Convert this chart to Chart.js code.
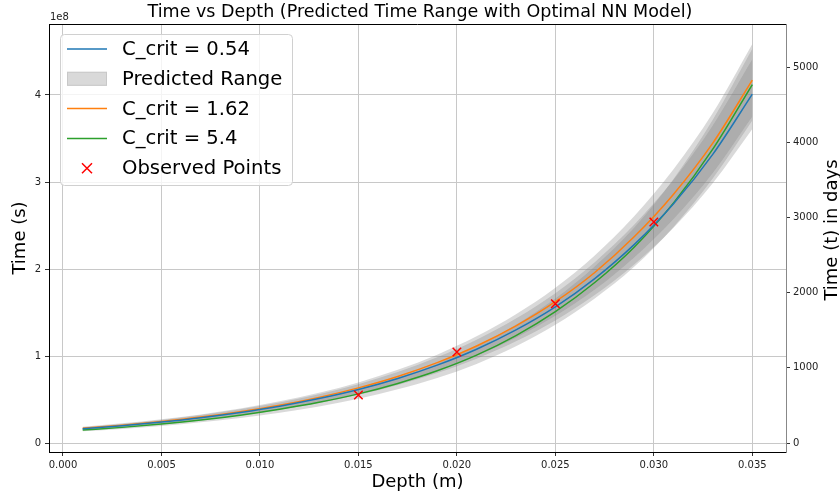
<!DOCTYPE html>
<html>
<head>
<meta charset="utf-8">
<script src="https://cdn.jsdelivr.net/npm/chart.js@4.4.1/dist/chart.umd.min.js"></script>
<style>
  html, body { margin: 0; padding: 0; background: #fff; }
  #wrap { width: 840px; height: 494px; }
</style>
</head>
<body>
<div id="wrap"><canvas id="grafico" width="840" height="494"></canvas></div>
<script>
// Profundidad (m)
const depth = [0.001, 0.003, 0.005, 0.007, 0.009, 0.011, 0.013, 0.015, 0.017,
  0.019, 0.021, 0.023, 0.025, 0.027, 0.029, 0.031, 0.033, 0.035];

// Tiempo (s) por modelo
const timeC054 = [0.165e8, 0.200e8, 0.242e8, 0.292e8, 0.352e8, 0.424e8, 0.511e8, 0.615e8, 0.742e8,
  0.895e8, 1.078e8, 1.300e8, 1.565e8, 1.890e8, 2.280e8, 2.750e8, 3.320e8, 4.010e8];
const timeC162 = [0.170e8, 0.205e8, 0.248e8, 0.299e8, 0.361e8, 0.435e8, 0.525e8, 0.634e8, 0.765e8,
  0.924e8, 1.115e8, 1.346e8, 1.624e8, 1.960e8, 2.370e8, 2.860e8, 3.450e8, 4.170e8];
const timeC54 = [0.150e8, 0.180e8, 0.218e8, 0.264e8, 0.320e8, 0.388e8, 0.468e8, 0.565e8, 0.685e8,
  0.830e8, 1.010e8, 1.235e8, 1.510e8, 1.845e8, 2.250e8, 2.760e8, 3.380e8, 4.120e8];

// Rango predicho (bandas)
const bandHi054 = [0.182e8, 0.220e8, 0.266e8, 0.321e8, 0.387e8, 0.466e8, 0.562e8, 0.677e8, 0.816e8,
  0.985e8, 1.186e8, 1.430e8, 1.722e8, 2.079e8, 2.508e8, 3.025e8, 3.652e8, 4.411e8];
const bandLo054 = [0.149e8, 0.180e8, 0.218e8, 0.263e8, 0.317e8, 0.382e8, 0.460e8, 0.554e8, 0.668e8,
  0.806e8, 0.970e8, 1.170e8, 1.409e8, 1.701e8, 2.052e8, 2.475e8, 2.988e8, 3.609e8];
const bandHi162 = [0.187e8, 0.226e8, 0.273e8, 0.329e8, 0.397e8, 0.479e8, 0.578e8, 0.697e8, 0.842e8,
  1.016e8, 1.227e8, 1.481e8, 1.786e8, 2.156e8, 2.607e8, 3.146e8, 3.795e8, 4.587e8];
const bandLo162 = [0.153e8, 0.185e8, 0.223e8, 0.269e8, 0.325e8, 0.392e8, 0.473e8, 0.571e8, 0.689e8,
  0.832e8, 1.004e8, 1.211e8, 1.462e8, 1.764e8, 2.133e8, 2.574e8, 3.105e8, 3.753e8];
const bandHi54 = [0.165e8, 0.198e8, 0.240e8, 0.290e8, 0.352e8, 0.427e8, 0.515e8, 0.622e8, 0.754e8,
  0.913e8, 1.111e8, 1.359e8, 1.661e8, 2.030e8, 2.475e8, 3.036e8, 3.718e8, 4.532e8];
const bandLo54 = [0.135e8, 0.162e8, 0.196e8, 0.238e8, 0.288e8, 0.349e8, 0.421e8, 0.509e8, 0.617e8,
  0.747e8, 0.909e8, 1.112e8, 1.359e8, 1.661e8, 2.025e8, 2.484e8, 3.042e8, 3.708e8];

// Puntos observados
const obsDepth = [0.015, 0.020, 0.025, 0.030];
const obsTime = [0.552e8, 1.046e8, 1.600e8, 2.540e8];

// Marcas de los ejes
const xTicks = [0, 0.005, 0.010, 0.015, 0.020, 0.025, 0.030, 0.035];
const yTicks = [0, 1e8, 2e8, 3e8, 4e8];
const dayTicks = [0, 1000, 2000, 3000, 4000, 5000];

// Límites de ejes
const xMin = -0.00071, xMax = 0.03671;
const yMin = -0.103e8, yMax = 4.816e8;
const SEC_PER_DAY = 86400;

const pts = (xs, ys) => xs.map((x, i) => ({ x, y: ys[i] }));
const fijarTicks = vals => s => { s.ticks = vals.map(v => ({ value: v })); };

const BAND = 'rgba(128,128,128,0.3)';
const FONT = 'DejaVu Sans';

function linea(label, ys, color) {
  return {
    label, data: pts(depth, ys), borderColor: color, backgroundColor: color,
    borderWidth: 1.5, pointRadius: 0, fill: false, cubicInterpolationMode: 'monotone', order: 1
  };
}
function banda(hi, lo) {
  return [
    { label: 'hi', data: pts(depth, hi), borderWidth: 0, pointRadius: 0, fill: '+1',
      backgroundColor: BAND, borderColor: 'transparent', cubicInterpolationMode: 'monotone', order: 2 },
    { label: 'lo', data: pts(depth, lo), borderWidth: 0, pointRadius: 0, fill: false,
      borderColor: 'transparent', cubicInterpolationMode: 'monotone', order: 2 }
  ];
}

const legendItems = [
  { type: 'line', color: '#1f77b4', text: 'C_crit = 0.54' },
  { type: 'patch', color: '#d9d9d9', text: 'Predicted Range' },
  { type: 'line', color: '#ff7f0e', text: 'C_crit = 1.62' },
  { type: 'line', color: '#2ca02c', text: 'C_crit = 5.4' },
  { type: 'marker', color: '#ff0000', text: 'Observed Points' }
];

const extras = {
  id: 'extras',
  afterDraw(chart) {
    const c = chart.ctx;
    const a = chart.chartArea;
    c.save();
    // marco superior
    c.strokeStyle = '#000';
    c.lineWidth = 1;
    c.beginPath();
    c.moveTo(a.left, a.top + 0.5);
    c.lineTo(a.right, a.top + 0.5);
    c.stroke();
    // 1e8
    c.fillStyle = '#222';
    c.font = '10px ' + FONT;
    c.textAlign = 'left';
    c.textBaseline = 'bottom';
    c.fillText('1e8', a.left + 1, a.top - 2);
    // título eje derecho
    c.fillStyle = '#000';
    c.font = '18px ' + FONT;
    c.textAlign = 'center';
    c.textBaseline = 'middle';
    c.translate(832.5, (a.top + a.bottom) / 2 - 8);
    c.rotate(-Math.PI / 2);
    c.fillText('Time (t) in days', 0, 0);
    c.restore();

    // leyenda
    c.save();
    const bx = a.left + 11, by = a.top + 10, bw = 232, bh = 151;
    c.fillStyle = 'rgba(255,255,255,0.8)';
    c.strokeStyle = '#d0d0d0';
    c.lineWidth = 1;
    c.beginPath();
    c.roundRect(bx + 0.5, by + 0.5, bw, bh, 4);
    c.fill();
    c.stroke();
    c.font = '19.6px ' + FONT;
    c.textAlign = 'left';
    c.textBaseline = 'middle';
    legendItems.forEach((it, i) => {
      const y = by + 15 + i * 29.8;
      const hx = bx + 7;
      if (it.type === 'line') {
        c.strokeStyle = it.color;
        c.lineWidth = 1.5;
        c.beginPath();
        c.moveTo(hx, y);
        c.lineTo(hx + 40, y);
        c.stroke();
      } else if (it.type === 'patch') {
        c.fillStyle = it.color;
        c.fillRect(hx, y - 7, 40, 14);
        c.strokeStyle = '#c8c8c8';
        c.lineWidth = 1;
        c.strokeRect(hx + 0.5, y - 6.5, 39, 13);
      } else {
        c.strokeStyle = it.color;
        c.lineWidth = 1.5;
        const cx = hx + 20, r = 5;
        c.beginPath();
        c.moveTo(cx - r, y - r); c.lineTo(cx + r, y + r);
        c.moveTo(cx - r, y + r); c.lineTo(cx + r, y - r);
        c.stroke();
      }
      c.fillStyle = '#000';
      c.fillText(it.text, bx + 62, y + 1);
    });
    c.restore();
  }
};

new Chart(document.getElementById('grafico'), {
  type: 'line',
  data: {
    datasets: [
      linea('C_crit = 0.54', timeC054, '#1f77b4'),
      ...banda(bandHi054, bandLo054),
      linea('C_crit = 1.62', timeC162, '#ff7f0e'),
      ...banda(bandHi162, bandLo162),
      linea('C_crit = 5.4', timeC54, '#2ca02c'),
      ...banda(bandHi54, bandLo54),
      {
        type: 'scatter', label: 'Observed Points', data: pts(obsDepth, obsTime),
        pointStyle: 'crossRot', pointRadius: 6, borderColor: '#ff0000', borderWidth: 1.5,
        backgroundColor: '#ff0000', showLine: false, order: 0
      }
    ]
  },
  options: {
    responsive: false,
    animation: false,
    devicePixelRatio: 1,
    layout: { padding: 0 },
    plugins: {
      legend: { display: false },
      tooltip: { enabled: false },
      title: {
        display: true,
        text: 'Time vs Depth (Predicted Time Range with Optimal NN Model)',
        color: '#000',
        font: { family: FONT, size: 17.5, weight: 'normal' },
        padding: { top: 1.7, bottom: 1.3 }
      }
    },
    scales: {
      x: {
        type: 'linear', position: 'bottom', min: xMin, max: xMax, bounds: 'data',
        afterFit: s => { s.height = 42; },
        afterBuildTicks: fijarTicks(xTicks),
        ticks: {
          padding: 3, color: '#222', autoSkip: false,
          font: { family: FONT, size: 10 }, maxRotation: 0,
          callback: v => v.toFixed(3)
        },
        grid: { color: '#c8c8c8', lineWidth: 1, tickColor: '#333', tickLength: 4 },
        border: { color: '#000', width: 1 },
        title: {
          display: true, text: 'Depth (m)', color: '#000',
          font: { family: FONT, size: 18 }, padding: { top: 0, bottom: 1.2 }
        }
      },
      y: {
        type: 'linear', position: 'left', min: yMin, max: yMax, bounds: 'data',
        afterFit: s => { s.width = 49; },
        afterBuildTicks: fijarTicks(yTicks),
        ticks: {
          padding: 4, color: '#222', autoSkip: false,
          font: { family: FONT, size: 10 },
          callback: v => String(Math.round(v / 1e8))
        },
        grid: { color: '#c8c8c8', lineWidth: 1, tickColor: '#333', tickLength: 4 },
        border: { color: '#000', width: 1 },
        title: {
          display: true, text: 'Time (s)', color: '#000',
          font: { family: FONT, size: 18 }, padding: { top: 9.2, bottom: 0 }
        }
      },
      yDias: {
        type: 'linear', position: 'right', bounds: 'data',
        min: yMin / SEC_PER_DAY, max: yMax / SEC_PER_DAY,
        afterFit: s => { s.width = 54; },
        afterBuildTicks: fijarTicks(dayTicks),
        ticks: {
          padding: 3, color: '#222', autoSkip: false,
          font: { family: FONT, size: 10 },
          callback: v => String(v)
        },
        grid: { drawOnChartArea: false, tickColor: '#333', tickLength: 4 },
        border: { color: '#888', width: 1 }
      }
    }
  },
  plugins: [extras]
});
</script>
</body>
</html>
